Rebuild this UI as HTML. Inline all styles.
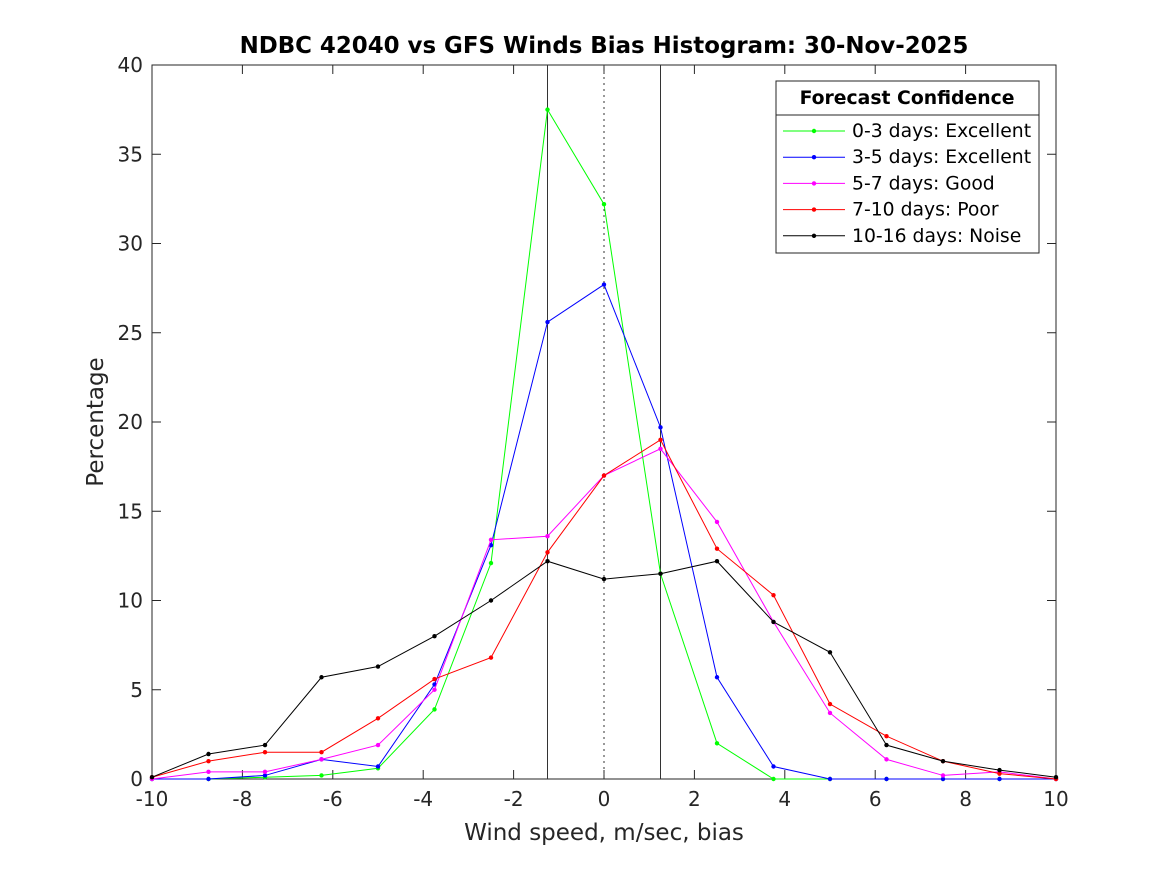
<!DOCTYPE html>
<html><head><meta charset="utf-8"><style>body{margin:0;background:#fff}svg{display:block;font-family:"DejaVu Sans","Liberation Sans",sans-serif}</style></head>
<body>
<svg id="c" width="1167" height="875" xmlns="http://www.w3.org/2000/svg"></svg>
<script>
const xs=[-10,-8.75,-7.5,-6.25,-5,-3.75,-2.5,-1.25,0,1.25,2.5,3.75,5,6.25,7.5,8.75,10];
const green=[0,0,0.1,0.2,0.6,3.9,12.1,37.5,32.2,11.5,2.0,0,0,0,0,0,0];
const blue=[0,0,0.2,1.1,0.7,5.3,13.1,25.6,27.7,19.7,5.7,0.7,0,0,0,0,0];
const magenta=[0,0.4,0.4,1.1,1.9,5.0,13.4,13.6,17.0,18.5,14.4,8.8,3.7,1.1,0.2,0.4,0];
const red=[0.1,1.0,1.5,1.5,3.4,5.6,6.8,12.7,17.0,19.0,12.9,10.3,4.2,2.4,1.0,0.3,0];
const black=[0.1,1.4,1.9,5.7,6.3,8.0,10.0,12.2,11.2,11.5,12.2,8.8,7.1,1.9,1.0,0.5,0.1];
const labels=["0-3 days: Excellent","3-5 days: Excellent","5-7 days: Good","7-10 days: Poor","10-16 days: Noise"];
const xTicks=[-10,-8,-6,-4,-2,0,2,4,6,8,10];
const yTicks=[0,5,10,15,20,25,30,35,40];
const L=152,R=1056,T=65,B=779;
const X=v=>L+(v+10)/20*(R-L), Y=v=>B-v/40*(B-T);
const svg=document.getElementById('c');const NS="http://www.w3.org/2000/svg";
function el(t,a,p){const e=document.createElementNS(NS,t);for(const k in a)e.setAttribute(k,a[k]);(p||svg).appendChild(e);return e;}
function txt(s,a){const e=el('text',a);e.textContent=s;return e;}
let f=el('rect',{x:L,y:T,width:R-L,height:B-T,fill:'#fff',stroke:'#262626','stroke-width':1});

xTicks.forEach(v=>{const x=X(v);el('line',{x1:x,x2:x,y1:B,y2:B-9,stroke:'#262626'});el('line',{x1:x,x2:x,y1:T,y2:T+9,stroke:'#262626'});
 const t=txt(String(v),{x:x,y:B+27,'text-anchor':'middle','font-size':20,fill:'#262626'});});
yTicks.forEach(v=>{const y=Y(v);el('line',{x1:L,x2:L+9,y1:y,y2:y,stroke:'#262626'});el('line',{x1:R,x2:R-9,y1:y,y2:y,stroke:'#262626'});
 const t=txt(String(v),{x:L-9,y:y+7,'text-anchor':'end','font-size':20,fill:'#262626'});});
[-1.25,1.25].forEach(v=>{const l=el('line',{x1:X(v),x2:X(v),y1:T,y2:B,stroke:'#333'});});
let z=el('line',{x1:X(0),x2:X(0),y1:T,y2:B,stroke:'#333','stroke-dasharray':'2,4'});
const series=[[green,'#00ff00'],[blue,'#0000ff'],[magenta,'#ff00ff'],[red,'#ff0000'],[black,'#000000']];
series.forEach(([d,c],i)=>{const p=el('polyline',{points:d.map((v,j)=>X(xs[j])+','+Y(v)).join(' '),fill:'none',stroke:c,'stroke-width':1});
 
 d.forEach((v,j)=>{const m=el('circle',{cx:X(xs[j]),cy:Y(v),r:2.2,fill:c});});});
let lg=el('g',{});
el('rect',{x:776,y:81,width:263,height:172,fill:'#fff',stroke:'#262626'},lg);
el('line',{x1:776,x2:1039,y1:115,y2:115,stroke:'#262626'},lg);
const lt=txt('Forecast Confidence',{x:907,y:104,'text-anchor':'middle','font-size':18.8,'font-weight':'bold',fill:'#000'});lg.appendChild(lt);
series.forEach(([d,c],i)=>{const y=131+i*26.2;el('line',{x1:783,x2:845,y1:y,y2:y,stroke:c},lg);el('circle',{cx:814,cy:y,r:2.2,fill:c},lg);
 const t=txt(labels[i],{x:852,y:y+6,'font-size':18.8,fill:'#000'});lg.appendChild(t);});
let tt=txt('NDBC 42040 vs GFS Winds Bias Histogram: 30-Nov-2025',{x:604,y:53,'text-anchor':'middle','font-size':22.9,'font-weight':'bold',fill:'#000'});
let xt=txt('Wind speed, m/sec, bias',{x:604,y:840,'text-anchor':'middle','font-size':23,fill:'#262626'});
let yt=txt('Percentage',{x:0,y:0,'text-anchor':'middle','font-size':23,fill:'#262626',transform:'translate(103,422) rotate(-90)'});
</script>
</body></html>
